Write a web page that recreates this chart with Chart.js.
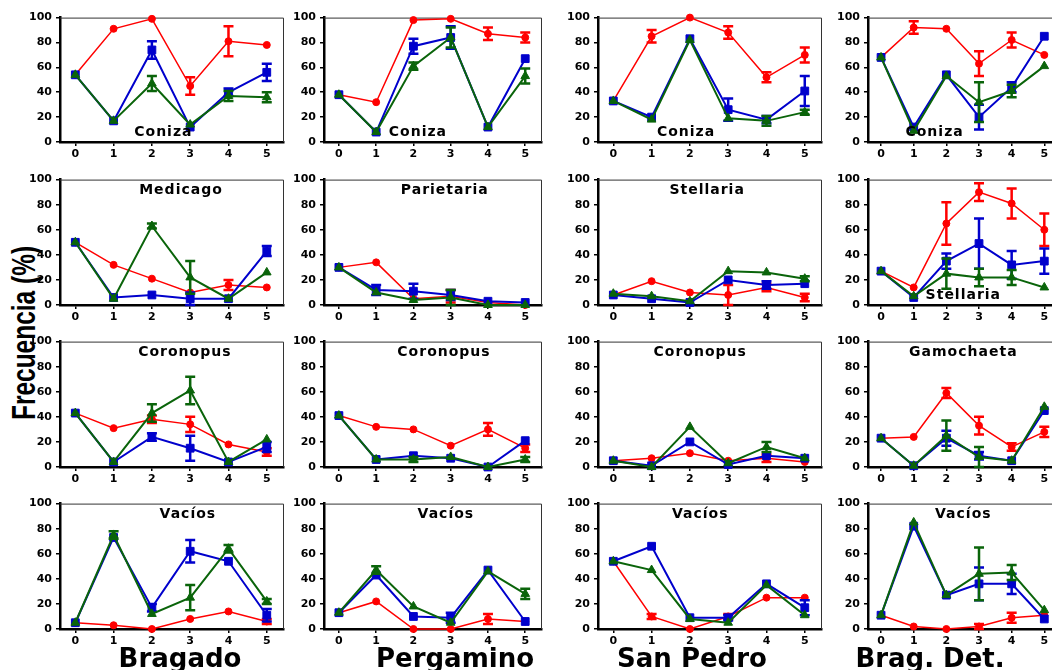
<!DOCTYPE html>
<html>
<head>
<meta charset="utf-8">
<script src="https://cdn.jsdelivr.net/npm/chart.js@4"></script>
<style>
  body { margin: 0; width: 1052px; height: 670px; overflow: hidden; background: #fff; position: relative; }
  canvas { position: absolute; }
  .site { position: absolute; font: bold 26px "DejaVu Sans", sans-serif; color: #000; white-space: nowrap; transform: translate(-50%, -50%); }
  #ylabel { position: absolute; left: 23px; top: 333px; font: bold 34px "Liberation Sans", Arial, sans-serif; color: #000; white-space: nowrap; transform: translate(-50%, -50%) rotate(-90deg) scaleX(0.72); }
</style>
</head>
<body>
<div id="ylabel">Frecuencia (%)</div>
<script>
// Sites (columns) and species (panels), read row by row
const sites = ['Bragado', 'Pergamino', 'San Pedro', 'Brag. Det.'];
const panelTitles = [
  'Coniza', 'Coniza', 'Coniza', 'Coniza',
  'Medicago', 'Parietaria', 'Stellaria', 'Stellaria',
  'Coronopus', 'Coronopus', 'Coronopus', 'Gamochaeta',
  'Vacíos', 'Vacíos', 'Vacíos', 'Vacíos'
];
const xTicks = [0, 1, 2, 3, 4, 5];
const yTicks = [0, 20, 40, 60, 80, 100];

// Red series (circles): mean and error per panel
const redMean = [
  [54, 91, 99, 45, 81, 78], [38, 32, 98, 99, 87, 84], [33, 85, 100, 88, 52, 70], [68, 92, 91, 63, 82, 70],
  [50, 32, 21, 10, 16, 14], [30, 34, 5, 7, 2, 0], [8, 19, 10, 8, 14, 6], [27, 14, 65, 90, 81, 60],
  [43, 31, 38, 34, 18, 12], [41, 32, 30, 17, 30, 15], [5, 7, 11, 5, 7, 4], [23, 24, 59, 33, 16, 28],
  [5, 3, 0, 8, 14, 6], [13, 22, 0, 0, 8, 6], [54, 10, 0, 10, 25, 25], [11, 2, 0, 2, 9, 11]
];
const redErr = [
  [0, 0, 0, 7, 12, 0], [0, 0, 0, 0, 5, 4], [0, 5, 0, 5, 4, 6], [0, 5, 0, 10, 6, 0],
  [0, 0, 0, 0, 4, 0], [0, 0, 0, 5, 0, 0], [0, 0, 0, 8, 3, 3], [0, 0, 17, 7, 12, 13],
  [0, 0, 3, 6, 0, 3], [0, 0, 0, 0, 5, 3], [0, 0, 0, 0, 3, 0], [0, 0, 4, 7, 3, 4],
  [0, 0, 0, 0, 0, 2], [0, 0, 0, 0, 4, 0], [0, 2, 0, 2, 0, 0], [0, 0, 0, 2, 4, 0]
];

// Blue series (squares)
const blueMean = [
  [54, 17, 74, 12, 40, 56], [38, 8, 77, 84, 12, 67], [33, 20, 83, 26, 18, 41], [68, 12, 54, 20, 44, 85],
  [50, 6, 8, 5, 5, 43], [30, 12, 11, 8, 3, 2], [8, 5, 2, 20, 16, 17], [27, 6, 35, 49, 32, 35],
  [43, 4, 24, 15, 4, 16], [41, 6, 9, 7, 0, 21], [5, 1, 20, 2, 9, 7], [23, 1, 23, 9, 5, 45],
  [5, 73, 17, 62, 54, 11], [13, 43, 10, 9, 47, 6], [54, 66, 9, 9, 36, 17], [11, 82, 27, 36, 36, 8]
];
const blueErr = [
  [0, 0, 7, 0, 3, 7], [0, 0, 6, 9, 0, 0], [0, 0, 0, 9, 3, 12], [0, 0, 0, 10, 4, 0],
  [0, 0, 0, 5, 0, 4], [0, 4, 6, 4, 0, 0], [0, 0, 0, 0, 3, 0], [0, 0, 6, 20, 11, 10],
  [0, 0, 3, 10, 0, 4], [0, 0, 0, 0, 0, 0], [0, 0, 0, 0, 0, 0], [0, 0, 6, 3, 0, 0],
  [0, 0, 3, 9, 0, 5], [0, 0, 0, 4, 0, 0], [0, 0, 0, 2, 0, 6], [0, 0, 0, 13, 8, 0]
];

// Green series (triangles)
const greenMean = [
  [54, 17, 47, 14, 37, 36], [38, 8, 61, 84, 12, 53], [33, 18, 82, 19, 17, 24], [68, 9, 53, 32, 41, 61],
  [50, 5, 63, 22, 5, 26], [30, 10, 4, 6, 0, 0], [9, 7, 3, 27, 26, 21], [27, 7, 25, 22, 22, 14],
  [43, 4, 43, 61, 4, 22], [41, 6, 6, 8, 0, 6], [5, 0, 32, 3, 16, 7], [23, 1, 25, 8, 5, 48],
  [5, 75, 12, 25, 64, 22], [13, 47, 18, 5, 46, 28], [54, 47, 8, 5, 35, 11], [11, 85, 27, 44, 45, 15]
];
const greenErr = [
  [0, 0, 6, 0, 4, 4], [0, 0, 3, 8, 0, 6], [0, 0, 0, 0, 4, 2], [0, 0, 0, 16, 5, 0],
  [0, 0, 2, 13, 0, 0], [0, 0, 0, 6, 0, 0], [0, 0, 0, 0, 0, 2], [0, 0, 12, 7, 6, 0],
  [0, 0, 7, 11, 0, 0], [0, 0, 2, 0, 0, 2], [0, 0, 0, 0, 4, 0], [0, 0, 12, 8, 0, 0],
  [0, 3, 0, 10, 3, 2], [0, 3, 0, 0, 0, 4], [0, 0, 0, 0, 0, 0], [0, 0, 0, 21, 6, 0]
];

// Grid geometry: pixel position of each plot box
const colAxis = [60, 324, 598, 868];
const colRight = [284, 542, 822, 1059];
const rowTop = [17, 179, 341, 503];
const rowBottom = [142, 305, 467, 629];
const siteCenters = [180, 455, 692, 930];
// panel title: x in axis units, and whether it sits at the bottom of the box
const titleX = [
  2.3, 2.12, 1.9, 1.64,
  2.76, 2.84, 2.45, 2.52,
  2.86, 2.82, 2.27, 2.52,
  2.94, 2.87, 2.27, 2.52
];
const bottomTitlePanels = [0, 1, 2, 3, 7];
const X_MIN = -0.4, X_MAX = 5.45;
const Y_AXIS_W = 40, PAD_TOP = 10, PAD_RIGHT = 10, X_AXIS_H = 24;

const RED = '#ff0000', BLUE = '#0000cc', GREEN = '#0a640a';
const tickFont = { family: '"DejaVu Sans", sans-serif', weight: 'bold', size: 11 };

// thin frame on the top and right of the plot box
const framePlugin = {
  id: 'frame',
  beforeDatasetsDraw(chart) {
    const { ctx, chartArea: a } = chart;
    ctx.save();
    ctx.strokeStyle = '#333';
    ctx.lineWidth = 1;
    ctx.beginPath();
    ctx.moveTo(a.left, a.top + 0.5);
    ctx.lineTo(a.right - 0.5, a.top + 0.5);
    ctx.lineTo(a.right - 0.5, a.bottom);
    ctx.stroke();
    ctx.restore();
  }
};

// vertical error bars with caps, drawn right after each dataset
const errorBarPlugin = {
  id: 'errorBars',
  afterDatasetDraw(chart, args) {
    const ds = chart.data.datasets[args.index];
    if (!ds.errors) return;
    const { ctx, scales: { x, y } } = chart;
    ctx.save();
    ctx.strokeStyle = ds.borderColor;
    ctx.lineWidth = 2.5;
    ds.data.forEach((pt, i) => {
      const e = ds.errors[i];
      if (!e) return;
      const px = x.getPixelForValue(pt.x);
      const top = y.getPixelForValue(pt.y + e);
      const bot = y.getPixelForValue(pt.y - e);
      ctx.beginPath();
      ctx.moveTo(px, top); ctx.lineTo(px, bot);
      ctx.moveTo(px - 5, top); ctx.lineTo(px + 5, top);
      ctx.moveTo(px - 5, bot); ctx.lineTo(px + 5, bot);
      ctx.stroke();
    });
    ctx.restore();
  }
};

const titlePlugin = {
  id: 'panelTitle',
  afterDatasetsDraw(chart, args, opts) {
    const { ctx, chartArea: a, scales: { x } } = chart;
    ctx.save();
    ctx.font = 'bold 14px "DejaVu Sans", sans-serif';
    ctx.letterSpacing = '1px';
    ctx.fillStyle = '#000';
    ctx.textAlign = 'center';
    ctx.textBaseline = 'middle';
    const ty = opts.bottom ? a.bottom - 10 : a.top + 11;
    ctx.fillText(opts.text, x.getPixelForValue(opts.x), ty);
    ctx.restore();
  }
};

function series(values, errors, color, style, radius, width) {
  return {
    data: xTicks.map((x, i) => ({ x, y: values[i] })),
    errors,
    borderColor: color,
    backgroundColor: color,
    borderWidth: width,
    pointStyle: style,
    pointRadius: radius,
    pointBorderWidth: 1,
    tension: 0,
    clip: false
  };
}

for (let p = 0; p < 16; p++) {
  const r = Math.floor(p / 4), c = p % 4;
  const w = Y_AXIS_W + (colRight[c] - colAxis[c]) + PAD_RIGHT;
  const h = PAD_TOP + (rowBottom[r] - rowTop[r]) + X_AXIS_H;
  const canvas = document.createElement('canvas');
  canvas.width = w; canvas.height = h;
  canvas.style.left = (colAxis[c] - Y_AXIS_W) + 'px';
  canvas.style.top = (rowTop[r] - PAD_TOP) + 'px';
  canvas.style.width = w + 'px'; canvas.style.height = h + 'px';
  document.body.appendChild(canvas);

  new Chart(canvas.getContext('2d'), {
    type: 'line',
    data: {
      datasets: [
        series(greenMean[p], greenErr[p], GREEN, 'triangle', 5, 2),
        series(blueMean[p], blueErr[p], BLUE, 'rect', 5.5, 2),
        series(redMean[p], redErr[p], RED, 'circle', 3.5, 1.5)
      ]
    },
    options: {
      responsive: false,
      animation: false,
      layout: { padding: { top: PAD_TOP, right: PAD_RIGHT, left: 0, bottom: 0 } },
      plugins: {
        legend: { display: false },
        tooltip: { enabled: false },
        panelTitle: { text: panelTitles[p], x: titleX[p], bottom: bottomTitlePanels.includes(p) }
      },
      scales: {
        x: {
          type: 'linear', min: X_MIN, max: X_MAX,
          afterBuildTicks: s => { s.ticks = xTicks.map(v => ({ value: v })); },
          afterFit: s => { s.height = X_AXIS_H; },
          grid: { drawOnChartArea: false, drawTicks: true, tickLength: 4, color: '#000', lineWidth: 1.5 },
          border: { color: '#000', width: 2.5 },
          ticks: { color: '#000', font: tickFont, padding: 2, maxRotation: 0 }
        },
        y: {
          min: 0, max: 100,
          afterBuildTicks: s => { s.ticks = yTicks.map(v => ({ value: v })); },
          afterFit: s => { s.width = Y_AXIS_W; },
          grid: { drawOnChartArea: false, drawTicks: true, tickLength: 4, color: '#000', lineWidth: 1.5 },
          border: { color: '#000', width: 2.5 },
          ticks: { color: '#000', font: tickFont, padding: 4 }
        }
      }
    },
    plugins: [framePlugin, errorBarPlugin, titlePlugin]
  });
}

sites.forEach((name, c) => {
  const d = document.createElement('div');
  d.className = 'site';
  d.textContent = name;
  d.style.left = siteCenters[c] + 'px';
  d.style.top = '658px';
  document.body.appendChild(d);
});
</script>
</body>
</html>
